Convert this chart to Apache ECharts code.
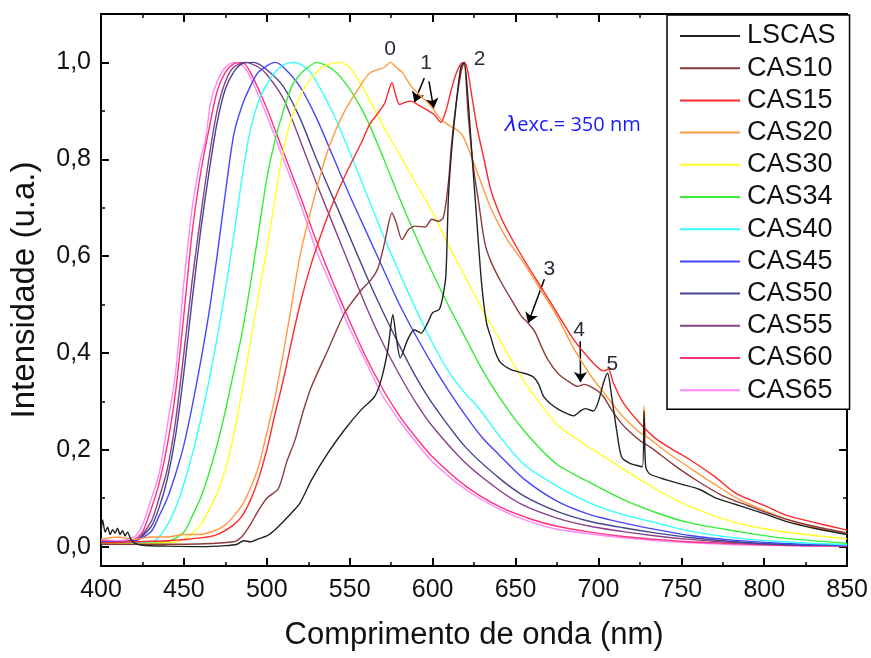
<!DOCTYPE html>
<html>
<head>
<meta charset="utf-8">
<script src="https://cdn.jsdelivr.net/npm/echarts@6/dist/echarts.min.js"></script>
<style>
html,body{margin:0;padding:0;background:#fff;}
#chart{width:871px;height:658px;}
</style>
</head>
<body>
<div id="chart"></div>
<script>
// ---------------- data (wavelength nm, normalized intensity) ----------------
const SERIES_NAMES = ['LSCAS','CAS10','CAS15','CAS20','CAS30','CAS34','CAS40','CAS45','CAS50','CAS55','CAS60','CAS65'];
const SERIES_COLORS = ['#222222','#8b3a3a','#ff2a2a','#ff9a40','#ffff22','#33ee33','#33ffff','#4646ff','#45458f','#8a408a','#ff3377','#ff88ff'];

const LSCAS_WL = [400,401,402.5,404,405.5,407,408.5,410,411.5,413,414.5,416,418,420,425,440,460,475,482,486,490,495,500,505,510,515,520,527,537,547,557,565,569,573,576,578,580.5,585,589,593,597,600,604,606,608,609.5,611.5,614.5,617,619,621,623.5,626.5,629.5,632.5,635.5,638,641,647,653,658,661,664,667,673,679,685,689,692,697,700,703,705.5,708,711,714,719,726.5,727.5,728.5,731,741,751,761,771,783,800,813,830,850];
const LSCAS_I = [0.03,0.055,0.03,0.04,0.025,0.035,0.028,0.038,0.025,0.033,0.022,0.03,0.015,0.008,0.003,0.001,0.0,0.002,0.005,0.012,0.01,0.016,0.022,0.035,0.052,0.07,0.09,0.138,0.194,0.242,0.283,0.31,0.345,0.407,0.479,0.434,0.39,0.428,0.448,0.441,0.462,0.483,0.49,0.514,0.56,0.72,0.82,0.923,0.99,1.0,0.94,0.82,0.68,0.545,0.462,0.428,0.4,0.38,0.366,0.36,0.355,0.35,0.335,0.31,0.29,0.278,0.27,0.28,0.285,0.28,0.3,0.338,0.358,0.31,0.24,0.185,0.172,0.165,0.28,0.165,0.15,0.138,0.128,0.118,0.1,0.087,0.068,0.052,0.038,0.025];

const CAS10_WL = [400,450,480,485,490,495,500,507,512,517,522,527,537,547,557,563,567,571,575.5,578,581.5,585.5,589.5,595.5,599.5,603.5,606.5,609.5,611.5,614.5,617.5,619,621.5,624.5,627.5,631.5,635.5,641.5,647.5,653.5,657.5,661.5,665.5,669.5,675.5,681.5,687.5,691.5,695.5,699.5,703,707.5,713.5,719.5,725.5,731.5,745,760,775,790,810,830,850];
const CAS10_I = [0.005,0.005,0.01,0.021,0.045,0.075,0.1,0.12,0.175,0.22,0.28,0.331,0.407,0.483,0.53,0.552,0.575,0.627,0.689,0.67,0.634,0.655,0.662,0.66,0.676,0.672,0.68,0.751,0.834,0.923,0.986,1.0,0.889,0.786,0.717,0.627,0.586,0.545,0.51,0.476,0.462,0.445,0.414,0.386,0.358,0.342,0.331,0.335,0.33,0.322,0.31,0.285,0.256,0.235,0.218,0.205,0.17,0.135,0.105,0.085,0.06,0.042,0.028];

const CAS15_WL = [400,420,440,460,470,480,485,490,495,500,505,510,515,520,527,537,547,557,562,567,571,575.5,577.5,580,583,587,591,596,601,605,608,611,614,617,619,621,624,627,631,635,641,647,655,665,675,685,695,701,703.5,706,709,715,725,735,745,755,770,783,800,813,830,850];
const CAS15_I = [0.008,0.01,0.012,0.018,0.025,0.045,0.063,0.095,0.14,0.2,0.275,0.345,0.425,0.5,0.586,0.685,0.765,0.834,0.872,0.895,0.915,0.958,0.935,0.913,0.917,0.92,0.913,0.903,0.892,0.876,0.9,0.94,0.975,0.997,1.0,0.985,0.923,0.862,0.8,0.738,0.682,0.641,0.593,0.538,0.483,0.428,0.386,0.366,0.363,0.367,0.338,0.297,0.255,0.222,0.2,0.18,0.145,0.11,0.085,0.065,0.05,0.034];

const CAS20_WL = [400,410,420,430,440,450,460,470,475,480,485,490,495,500,505,510,515,520,527,537,547,557,562,567,571,574.5,578,582,587,593,599,605,611,615,618,621,625,630,635,645,655,665,675,685,695,705,715,726.5,727.5,728.5,730,740,755,765,775,785,800,815,830,850];
const CAS20_I = [0.015,0.02,0.015,0.02,0.02,0.025,0.025,0.035,0.045,0.063,0.085,0.12,0.165,0.235,0.31,0.4,0.5,0.6,0.7,0.82,0.9,0.955,0.978,0.985,0.99,1.0,0.99,0.978,0.951,0.93,0.91,0.882,0.868,0.86,0.85,0.827,0.79,0.745,0.7,0.634,0.586,0.531,0.476,0.41,0.355,0.31,0.268,0.232,0.29,0.228,0.225,0.198,0.163,0.14,0.118,0.097,0.075,0.055,0.04,0.026];

const CAS30_WL = [400,440,450,460,465,470,475,480,485,490,495,500,505,510,515,520,525,530,535,544,550,560,570,580,590,600,610,620,630,640,650,660,675,690,700,715,735,755,780,800,825,850];
const CAS30_I = [0.005,0.008,0.015,0.045,0.075,0.11,0.16,0.23,0.32,0.42,0.52,0.614,0.72,0.82,0.887,0.93,0.96,0.98,0.993,1.0,0.99,0.935,0.87,0.81,0.75,0.69,0.62,0.555,0.49,0.43,0.37,0.318,0.252,0.215,0.193,0.16,0.118,0.083,0.052,0.037,0.025,0.016];

const CAS34_WL = [400,440,450,455,460,465,470,475,480,485,490,495,500,505,510,515,520,525,530,540,550,560,570,580,590,600,610,620,630,640,655,675,695,715,735,755,783,810,850];
const CAS34_I = [0.005,0.01,0.03,0.063,0.1,0.15,0.21,0.28,0.36,0.44,0.54,0.65,0.76,0.84,0.9,0.95,0.975,0.99,1.0,0.985,0.945,0.885,0.805,0.72,0.64,0.565,0.495,0.43,0.365,0.31,0.24,0.17,0.132,0.097,0.07,0.049,0.032,0.018,0.007];

const CAS40_WL = [400,430,435,440,445,450,455,460,465,470,475,480,485,490,495,500,505,510,517,525,530,540,550,560,570,580,590,600,610,620,627,640,655,675,695,715,735,755,783,810,850];
const CAS40_I = [0.005,0.01,0.02,0.045,0.08,0.13,0.19,0.26,0.34,0.43,0.53,0.64,0.76,0.86,0.92,0.955,0.98,0.995,1.0,0.985,0.96,0.895,0.815,0.73,0.645,0.565,0.49,0.42,0.36,0.315,0.29,0.23,0.17,0.125,0.09,0.066,0.049,0.032,0.018,0.01,0.004];

const CAS45_WL = [400,420,430,435,440,445,450,455,460,465,470,475,480,485,490,495,505,510,520,530,540,550,560,570,580,590,600,610,620,630,640,655,675,695,715,735,755,783,810,850];
const CAS45_I = [0.01,0.012,0.03,0.063,0.1,0.15,0.21,0.29,0.38,0.48,0.6,0.73,0.85,0.91,0.95,0.98,1.0,0.99,0.95,0.885,0.805,0.725,0.65,0.575,0.5,0.435,0.375,0.32,0.27,0.225,0.19,0.14,0.094,0.066,0.049,0.035,0.023,0.013,0.007,0.002];

const CAS50_WL = [400,420,430,435,440,445,450,455,460,465,470,475,480,485,492,500,510,520,530,540,550,560,570,580,590,600,620,640,655,675,695,715,735,755,783,810,850];
const CAS50_I = [0.01,0.012,0.04,0.08,0.14,0.23,0.36,0.51,0.65,0.77,0.875,0.945,0.98,0.997,1.0,0.985,0.95,0.885,0.8,0.72,0.64,0.56,0.485,0.415,0.35,0.295,0.205,0.142,0.105,0.073,0.052,0.039,0.028,0.019,0.01,0.005,0.002];

const CAS55_WL = [400,420,430,435,440,445,450,455,460,465,470,475,480,487,495,500,510,520,530,540,550,560,570,580,590,600,620,640,655,675,695,715,735,755,783,810,850];
const CAS55_I = [0.01,0.012,0.05,0.1,0.16,0.26,0.4,0.55,0.68,0.8,0.9,0.96,0.99,1.0,0.99,0.975,0.925,0.84,0.75,0.665,0.58,0.495,0.42,0.355,0.297,0.248,0.172,0.117,0.085,0.059,0.042,0.031,0.022,0.015,0.008,0.004,0.002];

const CAS60_WL = [400,410,420,425,430,435,440,445,450,455,460,465,470,475,480,485,490,500,510,520,530,540,550,560,570,580,590,600,620,640,660,675,695,715,735,755,783,810,850];
const CAS60_I = [0.012,0.01,0.015,0.03,0.075,0.13,0.21,0.32,0.48,0.65,0.77,0.86,0.94,0.98,0.997,1.0,0.98,0.905,0.815,0.725,0.63,0.545,0.465,0.39,0.325,0.27,0.225,0.185,0.125,0.083,0.056,0.042,0.03,0.021,0.015,0.01,0.006,0.003,0.001];

const CAS65_WL = [400,410,420,425,430,435,440,445,450,455,460,463,466,470,475,480,485,490,500,510,520,530,540,550,560,570,580,590,600,620,640,660,675,695,715,735,755,783,810,850];
const CAS65_I = [0.015,0.012,0.02,0.045,0.095,0.15,0.25,0.36,0.545,0.7,0.8,0.84,0.915,0.96,0.99,1.0,0.995,0.97,0.89,0.8,0.71,0.61,0.53,0.45,0.38,0.31,0.26,0.215,0.175,0.118,0.078,0.05,0.036,0.026,0.018,0.012,0.008,0.004,0.002,0.001];

const SERIES_WL = [LSCAS_WL,CAS10_WL,CAS15_WL,CAS20_WL,CAS30_WL,CAS34_WL,CAS40_WL,CAS45_WL,CAS50_WL,CAS55_WL,CAS60_WL,CAS65_WL];
const SERIES_I  = [LSCAS_I,CAS10_I,CAS15_I,CAS20_I,CAS30_I,CAS34_I,CAS40_I,CAS45_I,CAS50_I,CAS55_I,CAS60_I,CAS65_I];

// axis ticks
const X_MIN = 400, X_MAX = 850, X_STEP = 50;
const Y_MIN = -0.04, Y_MAX = 1.1;
const Y_MAJOR = [0, 0.2, 0.4, 0.6, 0.8, 1.0];
const Y_MINOR = [0.1, 0.3, 0.5, 0.7, 0.9, 1.1];

// annotations (wavelength, intensity)
const PEAK_LABELS = [
  {t:'0', x:574.4, y:1.027},
  {t:'1', x:596.0, y:0.999},
  {t:'2', x:628.4, y:1.006},
  {t:'3', x:670.4, y:0.572},
  {t:'4', x:688.4, y:0.448},
  {t:'5', x:708.4, y:0.376}
];
const ARROWS = [
  [[595.0,0.968],[589.0,0.918]],
  [[597.8,0.961],[600.6,0.905]],
  [[667.4,0.552],[657.6,0.462]],
  [[689.0,0.424],[689.2,0.340]]
];
const EXC_LABEL = {x:684.5, y:0.87};

// ---------------- chart ----------------
const FONT = 'Liberation Sans, Arial, sans-serif';
const chart = echarts.init(document.getElementById('chart'), null, {renderer:'canvas'});

const series = SERIES_NAMES.map((name, k) => ({
  name: name,
  type: 'line',
  xAxisIndex: 0,
  yAxisIndex: 0,
  data: SERIES_WL[k].map((w, j) => [w, SERIES_I[k][j]]),
  symbol: 'none',
  smooth: 0.25,
  lineStyle: {color: SERIES_COLORS[k], width: 1.4},
  itemStyle: {color: SERIES_COLORS[k]},
  z: 2 + (SERIES_NAMES.length - k),
  silent: true
}));

series.push({
  name: 'annot',
  type: 'line',
  xAxisIndex: 0,
  yAxisIndex: 0,
  data: [],
  silent: true,
  z: 20,
  markLine: {
    silent: true,
    animation: false,
    symbol: ['none', 'arrow'],
    symbolSize: 10,
    label: {show: false},
    lineStyle: {color: '#000', width: 1.5, type: 'solid'},
    emphasis: {disabled: true},
    data: ARROWS.map(a => [{coord: a[0]}, {coord: a[1]}])
  },
  markPoint: {
    silent: true,
    animation: false,
    symbol: 'circle',
    symbolSize: 1,
    itemStyle: {color: 'rgba(0,0,0,0)'},
    data: PEAK_LABELS.map(p => ({
      coord: [p.x, p.y],
      label: {show: true, position: 'inside', formatter: p.t, color: '#2a2a3a', fontSize: 21, fontFamily: FONT}
    })).concat([{
      coord: [EXC_LABEL.x, EXC_LABEL.y],
      label: {
        show: true, position: 'inside',
        formatter: '{a|λ}{b|exc.= 350 nm}',
        rich: {
          a: {color: '#1a1aff', fontSize: 21, fontStyle: 'italic', fontFamily: 'DejaVu Sans, sans-serif'},
          b: {color: '#1a1aff', fontSize: 20, fontFamily: 'Open Sans, sans-serif'}
        }
      }
    }])
  }
});

const axisLineStyle = {color: '#000', width: 2};
const labelFmt = v => v.toFixed(1).replace('.', ',');

const option = {
  animation: false,
  backgroundColor: '#fff',
  grid: {left: 101, right: 20, top: 14, bottom: 92, containLabel: false},
  legend: {
    data: SERIES_NAMES,
    orient: 'vertical',
    left: 667,
    top: 15,
    backgroundColor: '#fff',
    borderColor: '#000',
    borderWidth: 1.5,
    padding: [7, 14, 5, 13],
    icon: 'rect',
    itemWidth: 60,
    itemHeight: 2,
    itemGap: 4.2,
    selectedMode: false,
    textStyle: {fontSize: 27, fontFamily: FONT, color: '#111', lineHeight: 28, padding: [0, 0, 0, 2]}
  },
  xAxis: [
    {
      type: 'value', min: X_MIN, max: X_MAX, interval: X_STEP, position: 'bottom',
      name: 'Comprimento de onda (nm)', nameLocation: 'middle', nameGap: 54,
      nameTextStyle: {fontSize: 31, fontFamily: FONT, color: '#111'},
      axisLine: {show: true, onZero: false, lineStyle: axisLineStyle},
      axisTick: {show: true, inside: true, length: 8, lineStyle: {width: 2, color: '#000'}},
      minorTick: {show: true, splitNumber: 2, length: 4, lineStyle: {width: 1.5, color: '#000'}},
      axisLabel: {fontSize: 25, fontFamily: FONT, color: '#111', margin: 12},
      splitLine: {show: false}
    },
    {
      type: 'value', min: X_MIN, max: X_MAX, interval: X_STEP, position: 'top',
      axisLine: {show: true, onZero: false, lineStyle: axisLineStyle},
      axisTick: {show: true, inside: true, length: 8, lineStyle: {width: 2, color: '#000'}},
      minorTick: {show: true, splitNumber: 2, length: 4, lineStyle: {width: 1.5, color: '#000'}},
      axisLabel: {show: false},
      splitLine: {show: false}
    }
  ],
  yAxis: [
    {
      type: 'value', min: Y_MIN, max: Y_MAX, position: 'left',
      name: 'Intensidade (u.a.)', nameLocation: 'middle', nameGap: 60,
      nameTextStyle: {fontSize: 33, fontFamily: FONT, color: '#111'},
      axisLine: {show: true, onZero: false, lineStyle: axisLineStyle},
      axisTick: {show: true, inside: true, length: 8, customValues: Y_MAJOR, lineStyle: {width: 2, color: '#000'}},
      axisLabel: {customValues: Y_MAJOR, formatter: labelFmt, fontSize: 25, fontFamily: FONT, color: '#111', margin: 10},
      splitLine: {show: false}
    },
    {
      type: 'value', min: Y_MIN, max: Y_MAX, position: 'left',
      axisLine: {show: false},
      axisTick: {show: true, inside: true, length: 4, customValues: Y_MINOR, lineStyle: {width: 1.5, color: '#000'}},
      axisLabel: {show: false},
      splitLine: {show: false}
    },
    {
      type: 'value', min: Y_MIN, max: Y_MAX, position: 'right',
      axisLine: {show: true, onZero: false, lineStyle: axisLineStyle},
      axisTick: {show: true, inside: true, length: 8, customValues: Y_MAJOR, lineStyle: {width: 2, color: '#000'}},
      axisLabel: {show: false},
      splitLine: {show: false}
    },
    {
      type: 'value', min: Y_MIN, max: Y_MAX, position: 'right',
      axisLine: {show: false},
      axisTick: {show: true, inside: true, length: 4, customValues: Y_MINOR, lineStyle: {width: 1.5, color: '#000'}},
      axisLabel: {show: false},
      splitLine: {show: false}
    }
  ],
  series: series
};

chart.setOption(option);
</script>
</body>
</html>
